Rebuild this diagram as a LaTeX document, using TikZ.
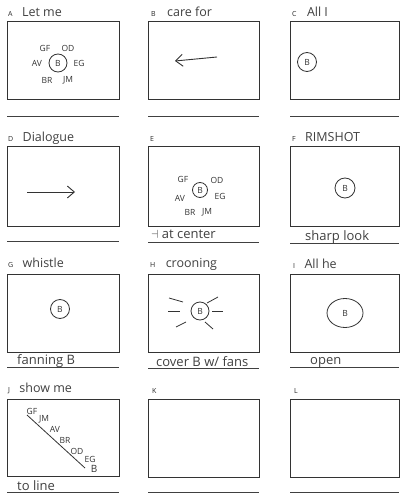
\documentclass[tikz,border=0pt]{standalone}
\usepackage{fontspec}
\setmainfont{Open Sans}
\usetikzlibrary{positioning, shapes.geometric, arrows.meta}

\begin{document}
\begin{tikzpicture}[x=1pt, y=-1pt,
    frame/.style={draw=black!80, line width=1pt},
    rule/.style={draw=black!75, line width=0.9pt},
    tag/.style={font=\fontsize{7}{8}\selectfont, inner sep=0pt, anchor=west, text=black!85},
    title/.style={font=\fontsize{12.5}{14}\selectfont, inner sep=0pt, text=black!75},
    note/.style={font=\fontsize{13}{14}\selectfont, inner sep=0pt, anchor=base west, text=black!75},
    who/.style={font=\fontsize{8.5}{9}\selectfont, inner sep=0pt, text=black!80},
    cb/.style={draw=black!80, circle, line width=0.8pt, inner sep=0pt, font=\fontsize{8.5}{9}\selectfont, text=black!80},
    pointer/.style={draw=black!80, line width=0.9pt, -{Straight Barb[length=7pt, width=12pt]}},
    ray/.style={draw=black!80, line width=0.8pt}]
        \useasboundingbox (0,0) rectangle (404,497);

        % Row 1
        \node[tag] (ta) at (8,14) {A};
        \node[title, base right=9pt of ta] (tla) {Let me};
        \draw[frame] (7,22) rectangle (119,100);
        \draw[rule] (7,116) -- (119,116);
        \node[cb, minimum size=18pt] (ab) at (58,63) {B};
        \node[who] (agf) at (45,48) {GF};
        \node[who] (aod) at (68,48) {OD};
        \node[who] (aav) at (37,63) {AV};
        \node[who] (aeg) at (79,63) {EG};
        \node[who] (abr) at (47,80) {BR};
        \node[who] (ajm) at (68,80) {JM};

        \node[tag] (tb) at (151,14) {B};
        \node[title, base right=11pt of tb] (tlb) {care for};
        \draw[frame] (148,22) rectangle (259,100);
        \draw[rule] (148,116) -- (259,116);
        \coordinate (btail) at (217,57);
        \coordinate (bhead) at (175,61);
        \draw[pointer] (btail) -- (bhead);

        \node[tag] (tc) at (292,14) {C};
        \node[title, base right=10pt of tc] (tlc) {All I};
        \draw[frame] (290,22) rectangle (399,100);
        \draw[rule] (290,116) -- (399,116);
        \node[cb, minimum size=19pt] (cbb) at (307,62) {B};

        % Row 2
        \node[tag] (td) at (8,139) {D};
        \node[title, base right=9pt of td] (tld) {Dialogue};
        \draw[frame] (7,147) rectangle (119,226);
        \draw[rule] (7,241) -- (119,241);
        \coordinate (dtail) at (27,192);
        \coordinate (dhead) at (75,192);
        \draw[pointer] (dtail) -- (dhead);

        \node[tag] (te) at (150,139) {E};
        \draw[frame] (148,147) rectangle (259,226);
        \draw[rule] (148,242) -- (259,242);
        \node[cb, minimum size=15pt] (eb) at (200,190) {B};
        \node[who] (egf) at (183,179) {GF};
        \node[who] (eod) at (217,180) {OD};
        \node[who] (eav) at (180,198) {AV};
        \node[who] (eeg) at (220,196) {EG};
        \node[who] (ebr) at (190,212) {BR};
        \node[who] (ejm) at (207,212) {JM};
        \node[note] (ne) at (151,238) {$\dashv$ at center};

        \node[tag] (tf) at (292,139) {F};
        \node[title, base right=9pt of tf] (tlf) {RIMSHOT};
        \draw[frame] (290,147) rectangle (399,226);
        \draw[rule] (290,243) -- (399,243);
        \node[cb, minimum size=20pt] (fb) at (345,188) {B};
        \node[note] (nf) at (305,240) {sharp look};

        % Row 3
        \node[tag] (tg) at (8,265) {G};
        \node[title, base right=9pt of tg] (tlg) {whistle};
        \draw[frame] (7,274) rectangle (119,352);
        \draw[rule] (7,367) -- (119,367);
        \node[cb, minimum size=19pt] (gb) at (60,309) {B};
        \node[note] (ng) at (17,364) {fanning B};

        \node[tag] (th) at (150,265) {H};
        \node[title, base right=10pt of th] (tlh) {crooning};
        \draw[frame] (148,274) rectangle (259,352);
        \draw[rule] (148,368) -- (259,368);
        \node[cb, minimum size=18pt] (hb) at (200,311) {B};
        \draw[ray] ([shift={(-31pt,13pt)}]hb.center) -- ([shift={(-17pt,9pt)}]hb.center);
        \draw[ray] ([shift={(-32pt,0pt)}]hb.center) -- ([shift={(-20pt,0pt)}]hb.center);
        \draw[ray] ([shift={(-24pt,-16pt)}]hb.center) -- ([shift={(-14pt,-11pt)}]hb.center);
        \draw[ray] ([shift={(7pt,8pt)}]hb.center) -- ([shift={(18pt,14pt)}]hb.center);
        \draw[ray] ([shift={(12pt,0pt)}]hb.center) -- ([shift={(23pt,0pt)}]hb.center);
        \draw[ray] ([shift={(5pt,-11pt)}]hb.center) -- ([shift={(13pt,-18pt)}]hb.center);
        \node[note] (nh) at (156,366) {cover B w/ fans};

        \node[tag] (ti) at (293,266) {I};
        \node[title, base right=9pt of ti] (tli) {All he};
        \draw[frame] (290,274) rectangle (399,352);
        \draw[rule] (290,367) -- (399,367);
        \node[cb, ellipse, minimum width=36pt, minimum height=29pt] (ib) at (345,313) {B};
        \node[note] (ni) at (310,364) {open};

        % Row 4
        \node[tag] (tj) at (8,391) {J};
        \node[title, base right=9pt of tj] (tlj) {show me};
        \draw[frame] (7,399) rectangle (119,476);
        \draw[rule] (7,492) -- (119,492);
        \coordinate (jtop) at (27,415);
        \coordinate (jend) at (85,468);
        \draw[ray] (jtop) -- (jend);
        \node[who] (jgf) at (32,411) {GF};
        \node[who] (jjm) at (44,419) {JM};
        \node[who] (jav) at (55,429) {AV};
        \node[who] (jbr) at (65,440) {BR};
        \node[who] (jod) at (77,451) {OD};
        \node[who] (jeg) at (90,459) {EG};
        \node[who, font=\fontsize{10}{11}\selectfont] (jb) at (94,469) {B};
        \node[note] (nj) at (17,490) {to line};

        \node[tag] (tk) at (152,391) {K};
        \draw[frame] (148,399) rectangle (259,477);
        \draw[rule] (148,492) -- (259,492);

        \node[tag] (tl) at (294,391) {L};
        \draw[frame] (290,399) rectangle (399,477);
        \draw[rule] (290,492) -- (399,492);
\end{tikzpicture}
\end{document}
